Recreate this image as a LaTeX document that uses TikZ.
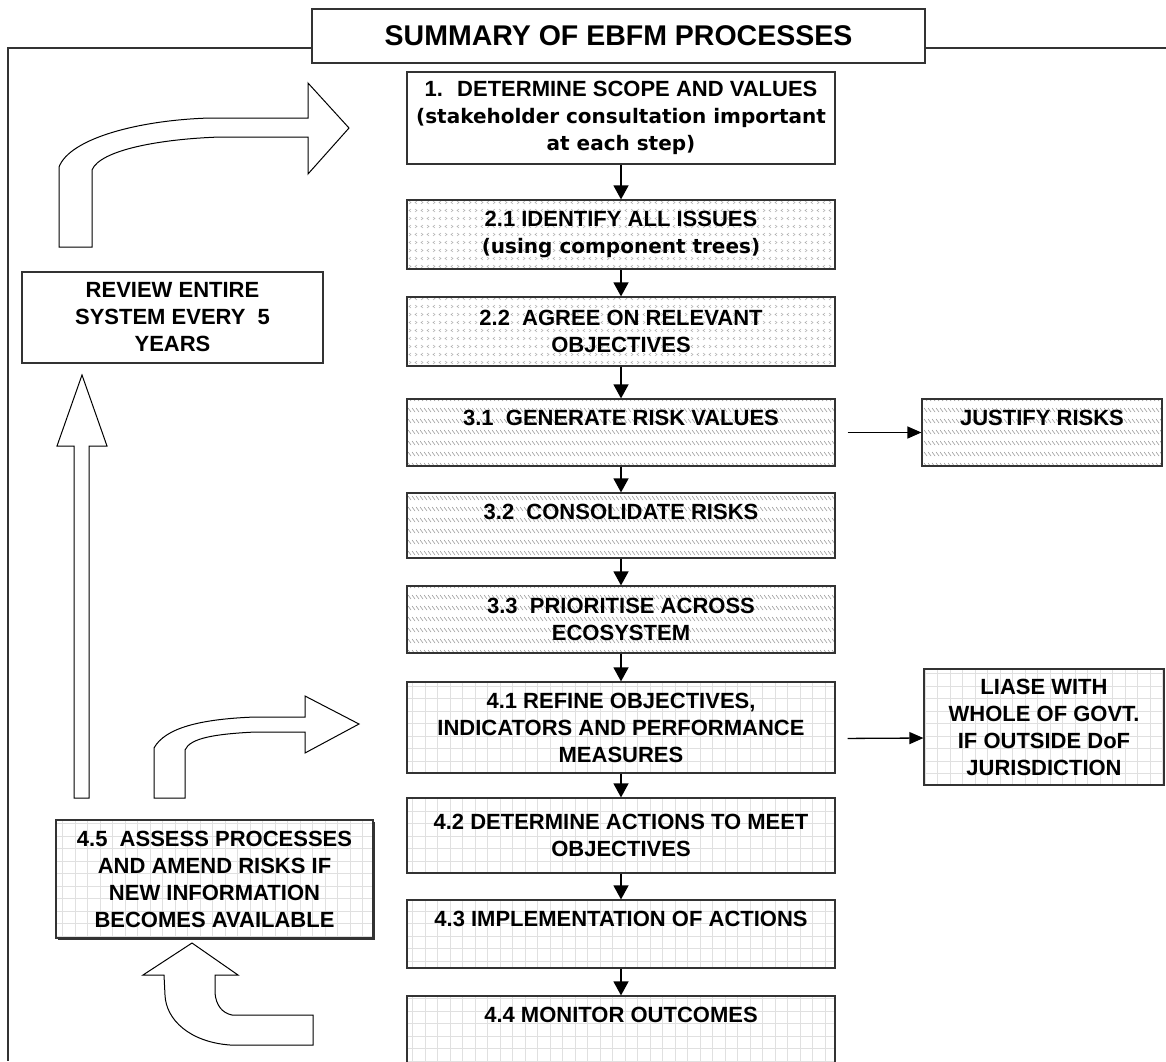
\documentclass[tikz,border=0pt]{standalone}
\usepackage{fontspec}
\setmainfont{Liberation Sans}
\newfontfamily\notefont{DejaVu Sans}
\usetikzlibrary{arrows.meta,patterns,shadows}

% fills of the three kinds of step boxes
\pgfdeclarepatternformonly{chevrons}{\pgfqpoint{-1pt}{-1pt}}{\pgfqpoint{13pt}{17pt}}{\pgfqpoint{12pt}{16pt}}{%
  \pgfsetlinewidth{0.5pt}%
  \pgfpathmoveto{\pgfqpoint{3pt}{1pt}}\pgfpathlineto{\pgfqpoint{1pt}{2.5pt}}\pgfpathlineto{\pgfqpoint{3pt}{4pt}}%
  \pgfpathmoveto{\pgfqpoint{7pt}{1pt}}\pgfpathlineto{\pgfqpoint{9pt}{2.5pt}}\pgfpathlineto{\pgfqpoint{7pt}{4pt}}%
  \pgfpathmoveto{\pgfqpoint{1pt}{9pt}}\pgfpathlineto{\pgfqpoint{3pt}{10.5pt}}\pgfpathlineto{\pgfqpoint{1pt}{12pt}}%
  \pgfpathmoveto{\pgfqpoint{9pt}{9pt}}\pgfpathlineto{\pgfqpoint{7pt}{10.5pt}}\pgfpathlineto{\pgfqpoint{9pt}{12pt}}%
  \pgfusepath{stroke}}
\pgfdeclarepatternformonly{hatchrows}{\pgfqpoint{-1pt}{-1pt}}{\pgfqpoint{5pt}{12pt}}{\pgfqpoint{4pt}{11pt}}{%
  \pgfsetlinewidth{0.6pt}%
  \pgfpathmoveto{\pgfqpoint{0pt}{4pt}}\pgfpathlineto{\pgfqpoint{3pt}{0pt}}%
  \pgfusepath{stroke}}
\pgfdeclarepatternformonly{gridcells}{\pgfqpoint{-1pt}{-1pt}}{\pgfqpoint{13.5pt}{13.5pt}}{\pgfqpoint{12.5pt}{12.5pt}}{%
  \pgfsetlinewidth{0.8pt}%
  \pgfpathmoveto{\pgfqpoint{0pt}{0pt}}\pgfpathlineto{\pgfqpoint{12.5pt}{0pt}}%
  \pgfpathmoveto{\pgfqpoint{0pt}{0pt}}\pgfpathlineto{\pgfqpoint{0pt}{12.5pt}}%
  \pgfusepath{stroke}}

\newcommand\notetext[1]{{\notefont\fontsize{20}{26}\selectfont #1}}

\begin{document}
\begin{tikzpicture}[x=1pt,y=-1pt,
  every node/.style={font=\bfseries\fontsize{22}{27}\selectfont, align=center, text=black},
  stepbox/.style={draw=black!80, line width=1.2pt, minimum width=428pt},
  issuebox/.style={stepbox, pattern=chevrons, pattern color=black!32},
  riskbox/.style={stepbox, pattern=hatchrows, pattern color=black!38},
  planbox/.style={stepbox, pattern=gridcells, pattern color=black!12},
  toptext/.style={anchor=north, inner sep=0pt, yshift=-12pt},
  flowarrow/.style={line width=1.4pt, -{Triangle[width=15pt,length=14pt]}},
  sidearrow/.style={line width=1.3pt, -{Triangle[width=12pt,length=14pt]}, shorten <=12pt},
  blockarrow/.style={draw=black, line width=1pt, fill=white, line join=miter},
  frame/.style={line width=1.2pt, black!80}]
\useasboundingbox (0,0) rectangle (1166,1061);

% title and frame
\draw (618.5,36) node[stepbox, minimum width=613pt, minimum height=54pt,
  font=\bfseries\fontsize{28.5}{34}\selectfont] (title) {SUMMARY OF EBFM PROCESSES};
\coordinate (ftl) at (8,48);
\coordinate (fbl) at (8,1061);
\coordinate (ftr) at (1166,48);
\draw[frame] (title.west |- ftl) -- (ftl) -- (fbl);
\draw[frame] (title.east |- ftr) -- (ftr);

% main column
\draw (621,118) node[stepbox, minimum height=92pt] (b1)
  {1.~ DETERMINE SCOPE AND VALUES\\\notetext{(stakeholder consultation important}\\\notetext{at each step)}};
\draw (621,234.5) node[issuebox, minimum height=69pt] (b21)
  {2.1 IDENTIFY ALL ISSUES\\\notetext{(using component trees)}};
\draw (621,331.5) node[issuebox, minimum height=69pt] (b22) {2.2~ AGREE ON RELEVANT\\OBJECTIVES};
\draw (621,432.5) node[riskbox, minimum height=67pt] (b31) {};
\draw (b31.north) node[toptext] (t31) {3.1~ GENERATE RISK VALUES};
\draw (621,525.5) node[riskbox, minimum height=65pt] (b32) {};
\draw (b32.north) node[toptext] (t32) {3.2~ CONSOLIDATE RISKS};
\draw (621,619.5) node[riskbox, minimum height=67pt] (b33) {3.3~ PRIORITISE ACROSS\\ECOSYSTEM};
\draw (621,727.5) node[planbox, minimum height=91pt] (b41)
  {4.1 REFINE OBJECTIVES,\\INDICATORS AND PERFORMANCE\\MEASURES};
\draw (621,835.5) node[planbox, minimum height=75pt] (b42) {4.2 DETERMINE ACTIONS TO MEET\\OBJECTIVES};
\draw (621,934) node[planbox, minimum height=68pt] (b43) {};
\draw (b43.north) node[toptext] (t43) {4.3 IMPLEMENTATION OF ACTIONS};
\draw (621,1036) node[planbox, minimum height=80pt] (b44) {};
\draw (b44.north) node[toptext] (t44) {4.4 MONITOR OUTCOMES};

% side boxes
\draw (1042,432.5) node[riskbox, minimum width=240pt, minimum height=67pt] (just) {};
\draw (just.north) node[toptext] (tjust) {JUSTIFY RISKS};
\draw (1044,727) node[planbox, minimum width=240pt, minimum height=116pt] (liase)
  {LIASE WITH\\WHOLE OF GOVT.\\IF OUTSIDE DoF\\JURISDICTION};

% left column
\draw (172.5,317.5) node[stepbox, minimum width=301pt, minimum height=91pt] (review)
  {REVIEW ENTIRE\\SYSTEM EVERY~ 5\\YEARS};
\draw (214.5,879) node[planbox, minimum width=317pt, minimum height=118pt,
  drop shadow={shadow xshift=2pt, shadow yshift=-2pt, fill=black!80, opacity=1},
  preaction={fill=white}] (assess)
  {4.5~ ASSESS PROCESSES\\AND AMEND RISKS IF\\NEW INFORMATION\\BECOMES AVAILABLE};

% connectors
\draw[flowarrow] (b1) -- (b21);
\draw[flowarrow] (b21) -- (b22);
\draw[flowarrow] (b22) -- (b31);
\draw[flowarrow] (b31) -- (b32);
\draw[flowarrow] (b32) -- (b33);
\draw[flowarrow] (b33) -- (b41);
\draw[flowarrow] (b41) -- (b42);
\draw[flowarrow] (b42) -- (b43);
\draw[flowarrow] (b43) -- (b44);
\draw[sidearrow] (b31) -- (just);
\draw[sidearrow] ([yshift=-11pt]b41.east) -- ([yshift=-11pt]liase.west);

% block arrows
\draw[blockarrow] (59,247) -- (59,167) .. controls (70,138) and (140,120) .. (210,118) -- (308,118)
  -- (308,83) -- (349,128) -- (308,174) -- (308,137) -- (220,137)
  .. controls (160,139) and (100,150) .. (92,170) -- (92,247) -- cycle;
\draw[blockarrow] (74,798) -- (74,446) -- (57,446) -- (82,375) -- (107,446) -- (89,446) -- (89,798) -- cycle;
\draw[blockarrow] (154,798) -- (154,748) .. controls (165,728) and (200,719) .. (255,717) -- (305,717)
  -- (305,696) -- (359,724) -- (305,753) -- (305,732) -- (255,732)
  .. controls (215,734) and (190,738) .. (185,750) -- (185,798) -- cycle;
\draw[blockarrow] (192,943) -- (238,975) -- (215,975) -- (215,993) .. controls (216,1005) and (222,1013) .. (232,1015)
  -- (313,1015) -- (313,1045) -- (230,1045) .. controls (190,1042) and (166,1020) .. (165,995)
  -- (164,975) -- (143,975) -- cycle;
\end{tikzpicture}
\end{document}
